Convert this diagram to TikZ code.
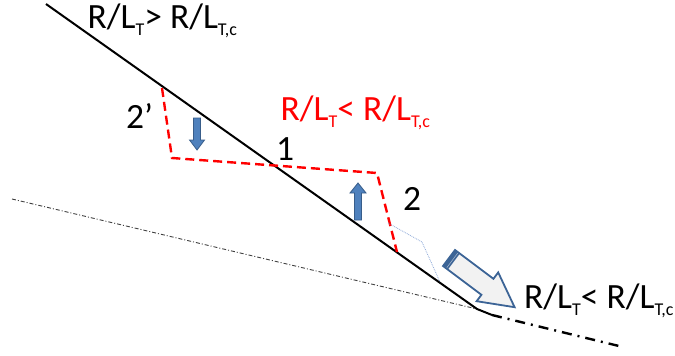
\documentclass[tikz,border=0pt]{standalone}
\usepackage{fontspec}
\setmainfont{Carlito}
\usetikzlibrary{calc}
\definecolor{boxblue}{HTML}{4F81BD}
\definecolor{edgeblue}{HTML}{385D8A}
\definecolor{bigedge}{HTML}{3C6496}
\definecolor{dotblue}{HTML}{8CA8D8}
\newcommand{\lsub}[1]{\raisebox{-7.5pt}{\fontsize{18}{19}\selectfont #1}}

\begin{document}
\begin{tikzpicture}[x=1pt,y=-1pt,
  every node/.style={font=\fontsize{35.5}{40}\selectfont,inner sep=0pt},
  wall/.style={line width=2pt,line join=round},
  front/.style={red,line width=2.4pt,dash pattern=on 9pt off 5pt},
  axis/.style={black!75,line width=0.9pt,dash pattern=on 4pt off 2pt on 1pt off 2pt},
  tail/.style={line width=2.4pt,dash pattern=on 10pt off 6pt on 2pt off 6pt},
  barrow/.style={fill=boxblue,draw=edgeblue,line width=0.8pt},
  guide/.style={dotblue,line width=0.8pt,densely dotted}]
  \useasboundingbox (0,0) rectangle (675,356);
  % profile
  \coordinate (top) at (46,4);
  \coordinate (knee) at (477,309);
  \coordinate (foot) at (492,315);
  \coordinate (end) at (623,347);
  \coordinate (far) at (12,199);
  \draw[axis] (far) -- (knee);
  \draw[wall] (top) -- (knee) -- (foot);
  \draw[tail] (foot) -- (end);
  % perturbed profile
  \coordinate (p0) at (162,88);
  \coordinate (p1) at (172,158);
  \coordinate (p2) at (377,173);
  \coordinate (p3) at (397,252);
  \draw[front] (p0) -- (p1) -- (p2) -- (p3);
  \coordinate (g0) at (388,223);
  \coordinate (g1) at (422,242);
  \coordinate (g2) at (440,282);
  \draw[guide] (g0) -- (g1) -- (g2);
  % small arrows
  \draw[barrow] (193.5,118) -- (200.5,118) -- (200.5,140) -- (204.5,140)
    -- (197,150) -- (189.5,140) -- (193.5,140) -- cycle;
  \draw[barrow] (354.5,220) -- (361.5,220) -- (361.5,193) -- (366,193)
    -- (358,183) -- (350,193) -- (354.5,193) -- cycle;
  % big arrow
  \begin{scope}[shift={(449,258)},rotate=-36.87]
    \draw[bigedge,fill=black!5,line width=1.8pt,line join=miter]
      (0,-10) -- (48,-10) -- (48,-18) -- (82,0) -- (48,18) -- (48,10)
      -- (0,10) -- cycle;
    \fill[bigedge] (0,-10) rectangle (6,10);
    \draw[bigedge!50,line width=0.6pt] (4,-9) -- (4,9);
  \end{scope}
  % labels
  \node[anchor=base west] (hilbl) at (87.5,28) {R/L\lsub{T}> R/L\lsub{T,c}};
  \node[anchor=base west,text=red] (midlbl) at (280.5,120) {R/L\lsub{T}< R/L\lsub{T,c}};
  \node[anchor=base west] (lolbl) at (524,308) {R/L\lsub{T}< R/L\lsub{T,c}};
  \node[anchor=base] (one) at (285,160) {1};
  \node[anchor=base] (two) at (412,210) {2};
  \node[anchor=base west] (twop) at (126,128) {2’};
\end{tikzpicture}
\end{document}
